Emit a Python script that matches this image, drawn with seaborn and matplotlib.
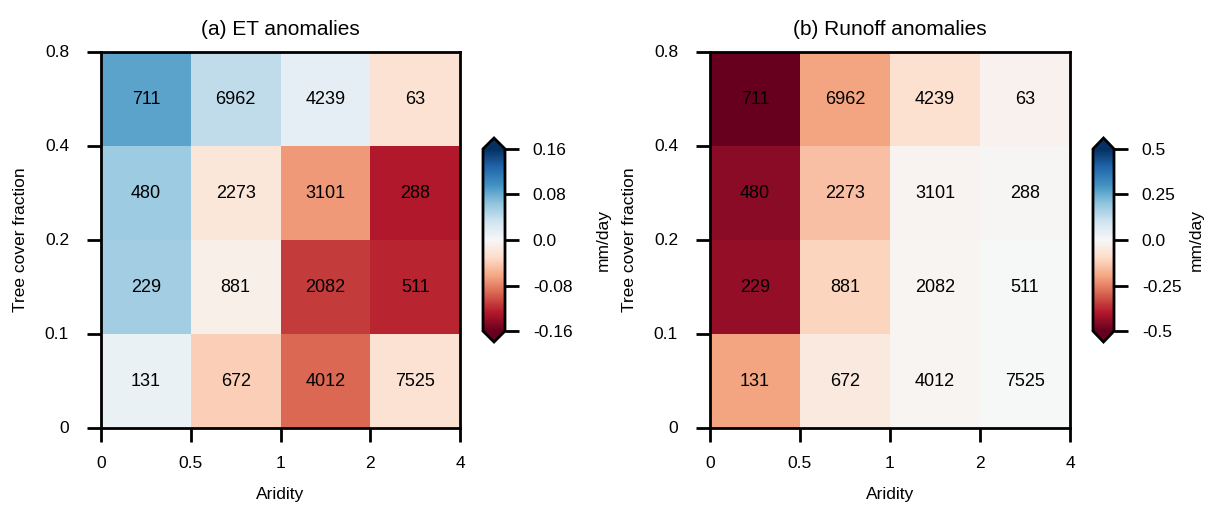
"""
Heatmaps of ET and runoff anomalies binned by aridity and tree cover fraction.
Numbers in the cells are the pixel counts of each bin.
"""

import numpy as np
import pandas as pd
import seaborn as sns
import matplotlib.pyplot as plt

sns.set_style("ticks")
plt.rcParams['font.family'] = ['Liberation Sans', 'DejaVu Sans']
plt.rcParams['text.color'] = 'black'
plt.rcParams['axes.labelcolor'] = 'black'
plt.rcParams['xtick.color'] = 'black'
plt.rcParams['ytick.color'] = 'black'

# bin edges
aridity_edges = ["0", "0.5", "1", "2", "4"]
tree_edges = ["0.8", "0.4", "0.2", "0.1", "0"]   # top to bottom

# pixel counts per bin (rows: tree cover from high to low)
counts = [[711, 6962, 4239, 63],
          [480, 2273, 3101, 288],
          [229, 881, 2082, 511],
          [131, 672, 4012, 7525]]

# anomalies in mm/day
et_anom = [[0.085, 0.040, 0.015, -0.025],
           [0.058, -0.020, -0.070, -0.128],
           [0.055, -0.010, -0.112, -0.122],
           [0.010, -0.040, -0.092, -0.025]]

runoff_anom = [[-0.50, -0.20, -0.08, -0.02],
               [-0.45, -0.15, -0.015, -0.005],
               [-0.44, -0.11, -0.010, 0.0],
               [-0.20, -0.05, -0.010, 0.0]]

titles = ["(a) ET anomalies", "(b) Runoff anomalies"]
limits = [0.16, 0.5]
cbar_ticks = [[0.16, 0.08, 0.0, -0.08, -0.16], [0.5, 0.25, 0.0, -0.25, -0.5]]
cbar_labels = [["0.16", "0.08", "0.0", "-0.08", "-0.16"],
               ["0.5", "0.25", "0.0", "-0.25", "-0.5"]]
label_pads = [17, 5]

W, H = 1219, 511
fig = plt.figure(figsize=(W / 100, H / 100), dpi=100)

ax_pos = [[101, 52, 359, 376], [710, 52, 360, 376]]
cax_pos = [[483, 138, 22, 204], [1093, 138, 21, 204]]


def frac(box):
    x, y, w, h = box
    return [x / W, 1 - (y + h) / H, w / W, h / H]


for i, data in enumerate([et_anom, runoff_anom]):
    ax = fig.add_axes(frac(ax_pos[i]))
    cax = fig.add_axes(frac(cax_pos[i]))
    df = pd.DataFrame(data, index=tree_edges[:-1], columns=aridity_edges[:-1])
    lim = limits[i]
    sns.heatmap(df, ax=ax, cbar_ax=cax, cmap="RdBu", vmin=-lim, vmax=lim,
                annot=np.array(counts), fmt="d",
                annot_kws={"fontsize": 13, "color": "black"},
                cbar_kws={"extend": "both", "extendfrac": 0.06,
                          "ticks": cbar_ticks[i]})

    # ticks on the bin edges
    ax.set_xticks(range(len(aridity_edges)))
    ax.set_xticklabels(aridity_edges, rotation=0)
    ax.set_yticks(range(len(tree_edges)))
    ax.set_yticklabels(tree_edges, rotation=0)
    ax.tick_params(axis="both", length=10, width=2, labelsize=12.5)
    ax.tick_params(axis="x", pad=10)
    ax.tick_params(axis="y", pad=13)
    for sp in ax.spines.values():
        sp.set_visible(True)
        sp.set_linewidth(2)
        sp.set_color("black")

    ax.set_xlabel("Aridity", fontsize=12.5, labelpad=12)
    ax.set_ylabel("Tree cover fraction", fontsize=12.5, labelpad=12)
    ax.set_title(titles[i], fontsize=15, pad=12)

    cbar = ax.collections[0].colorbar
    cbar.set_ticklabels(cbar_labels[i])
    cbar.ax.tick_params(length=10, width=2, labelsize=12.5, pad=10)
    cbar.outline.set_linewidth(2)
    cbar.outline.set_edgecolor("black")
    cbar.set_label("mm/day", fontsize=12.5, labelpad=label_pads[i])

plt.savefig("out.png", dpi=100)
